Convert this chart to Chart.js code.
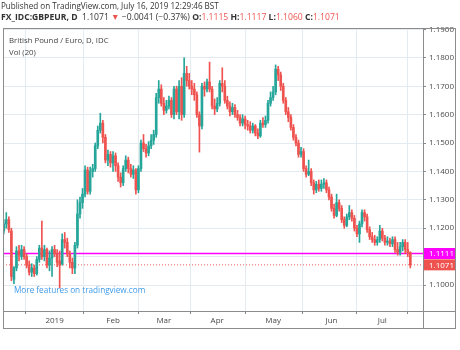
<!DOCTYPE html>
<html>
<head>
<meta charset="utf-8">
<script src="https://cdn.jsdelivr.net/npm/chart.js@4.4.0/dist/chart.umd.min.js"></script>
<style>
  html, body { margin: 0; padding: 0; background: #fff; }
  #wrap { position: relative; width: 460px; height: 350px; font-family: "Open Sans", sans-serif; color: #333; }
  #wrap canvas { position: absolute; left: 0; top: 0; }
  .txt { position: absolute; white-space: nowrap; line-height: 10px; }
  .red { color: #ef5350; }
  b { font-weight: 700; }
</style>
</head>
<body>
<div id="wrap">
  <canvas id="chart"></canvas>
  <div class="txt" style="left:1px; top:1px; font-size:8.1px;">Published on TradingView.com, July 16, 2019 12:29:46 BST</div>
  <div class="txt" style="left:1px; top:12px; font-size:8.6px;"><b>FX_IDC:GBPEUR, D</b>&nbsp; 1.1071 <span class="red">▼</span> −0.0041 (−0.37%) <b>O:</b><span class="red">1.1115</span> <b>H:</b><span class="red">1.1117</span> <b>L:</b><span class="red">1.1060</span> <b>C:</b><span class="red">1.1071</span></div>
  <div class="txt" style="left:9px; top:35px; font-size:7.8px; color:#444;">British Pound / Euro, D, IDC</div>
  <div class="txt" style="left:9px; top:47px; font-size:7.8px; color:#444;">Vol (20)</div>
  <div class="txt" style="left:14px; top:285px; font-size:8.2px; color:#3f9ae8;">More features on tradingview.com</div>
</div>
<script>
// daily GBP/EUR candles, 4 Dec 2018 .. 16 Jul 2019 (index = trading day)
const opens = [
  1.1190, 1.1215, 1.1230, 1.1190, 1.1020, 1.1060, 1.1120, 1.1100, 1.1125, 1.1100,
  1.1070, 1.1045, 1.1060, 1.1040, 1.1090, 1.1130, 1.1100, 1.1125, 1.1070, 1.1095,
  1.1125, 1.1110, 1.1085, 1.1075, 1.1160, 1.1150, 1.1110, 1.1080, 1.1060, 1.1140,
  1.1250, 1.1290, 1.1320, 1.1405, 1.1330, 1.1400, 1.1410, 1.1490, 1.1545, 1.1570,
  1.1520, 1.1440, 1.1460, 1.1430, 1.1455, 1.1420, 1.1380, 1.1360, 1.1410, 1.1440,
  1.1410, 1.1390, 1.1405, 1.1335, 1.1410, 1.1500, 1.1480, 1.1465, 1.1490, 1.1510,
  1.1530, 1.1660, 1.1690, 1.1640, 1.1615, 1.1630, 1.1650, 1.1600, 1.1690, 1.1610,
  1.1700, 1.1600, 1.1745, 1.1720, 1.1700, 1.1690, 1.1670, 1.1600, 1.1560, 1.1700,
  1.1690, 1.1715, 1.1690, 1.1630, 1.1620, 1.1640, 1.1710, 1.1700, 1.1650, 1.1630,
  1.1610, 1.1625, 1.1600, 1.1590, 1.1570, 1.1585, 1.1565, 1.1560, 1.1545, 1.1560,
  1.1535, 1.1525, 1.1570, 1.1565, 1.1580, 1.1640, 1.1660, 1.1680, 1.1760, 1.1740,
  1.1700, 1.1650, 1.1610, 1.1590, 1.1555, 1.1520, 1.1500, 1.1460, 1.1470, 1.1410,
  1.1390, 1.1400, 1.1360, 1.1335, 1.1355, 1.1340, 1.1355, 1.1360, 1.1335, 1.1310,
  1.1270, 1.1245, 1.1290, 1.1270, 1.1230, 1.1210, 1.1240, 1.1255, 1.1235, 1.1200,
  1.1180, 1.1215, 1.1255, 1.1240, 1.1195, 1.1170, 1.1160, 1.1150, 1.1160, 1.1190,
  1.1165, 1.1150, 1.1155, 1.1145, 1.1160, 1.1125, 1.1115, 1.1135, 1.1150, 1.1125,
  1.1115
];
const highs = [
  1.1230, 1.1255, 1.1240, 1.1200, 1.1065, 1.1135, 1.1140, 1.1140, 1.1135, 1.1110,
  1.1085, 1.1075, 1.1070, 1.1100, 1.1140, 1.1225, 1.1140, 1.1130, 1.1120, 1.1135,
  1.1140, 1.1125, 1.1120, 1.1180, 1.1185, 1.1165, 1.1120, 1.1095, 1.1150, 1.1300,
  1.1310, 1.1340, 1.1420, 1.1415, 1.1415, 1.1425, 1.1500, 1.1560, 1.1605, 1.1580,
  1.1530, 1.1475, 1.1470, 1.1470, 1.1465, 1.1430, 1.1395, 1.1420, 1.1455, 1.1450,
  1.1425, 1.1420, 1.1410, 1.1420, 1.1510, 1.1530, 1.1495, 1.1505, 1.1530, 1.1545,
  1.1675, 1.1720, 1.1705, 1.1660, 1.1650, 1.1665, 1.1660, 1.1700, 1.1700, 1.1720,
  1.1730, 1.1800, 1.1770, 1.1745, 1.1720, 1.1710, 1.1680, 1.1610, 1.1710, 1.1715,
  1.1725, 1.1785, 1.1700, 1.1655, 1.1660, 1.1720, 1.1765, 1.1720, 1.1665, 1.1645,
  1.1640, 1.1635, 1.1615, 1.1600, 1.1600, 1.1595, 1.1580, 1.1575, 1.1570, 1.1565,
  1.1550, 1.1580, 1.1590, 1.1595, 1.1650, 1.1680, 1.1700, 1.1775, 1.1770, 1.1750,
  1.1710, 1.1660, 1.1625, 1.1600, 1.1565, 1.1530, 1.1510, 1.1485, 1.1480, 1.1420,
  1.1440, 1.1410, 1.1370, 1.1365, 1.1370, 1.1370, 1.1375, 1.1370, 1.1345, 1.1320,
  1.1285, 1.1320, 1.1300, 1.1280, 1.1240, 1.1250, 1.1280, 1.1265, 1.1245, 1.1210,
  1.1225, 1.1265, 1.1265, 1.1250, 1.1205, 1.1185, 1.1175, 1.1170, 1.1210, 1.1200,
  1.1175, 1.1170, 1.1165, 1.1170, 1.1170, 1.1150, 1.1150, 1.1160, 1.1160, 1.1150,
  1.1117
];
const lows = [
  1.1180, 1.1200, 1.1185, 1.1015, 1.1005, 1.1050, 1.1085, 1.1090, 1.1090, 1.1060,
  1.1035, 1.1030, 1.1030, 1.1035, 1.1080, 1.1090, 1.1085, 1.1060, 1.1050, 1.1030,
  1.1100, 1.1065, 1.0990, 1.1070, 1.1130, 1.1100, 1.1060, 1.1040, 1.1040, 1.1130,
  1.1235, 1.1270, 1.1310, 1.1320, 1.1320, 1.1380, 1.1400, 1.1480, 1.1535, 1.1500,
  1.1430, 1.1420, 1.1415, 1.1400, 1.1400, 1.1365, 1.1345, 1.1350, 1.1400, 1.1395,
  1.1380, 1.1375, 1.1320, 1.1325, 1.1400, 1.1470, 1.1450, 1.1455, 1.1480, 1.1495,
  1.1520, 1.1640, 1.1630, 1.1600, 1.1605, 1.1620, 1.1590, 1.1585, 1.1600, 1.1585,
  1.1580, 1.1590, 1.1700, 1.1690, 1.1670, 1.1650, 1.1590, 1.1468, 1.1550, 1.1665,
  1.1680, 1.1680, 1.1620, 1.1600, 1.1610, 1.1630, 1.1680, 1.1640, 1.1620, 1.1595,
  1.1600, 1.1590, 1.1580, 1.1560, 1.1560, 1.1550, 1.1545, 1.1535, 1.1535, 1.1525,
  1.1515, 1.1520, 1.1555, 1.1555, 1.1570, 1.1630, 1.1650, 1.1670, 1.1720, 1.1685,
  1.1640, 1.1600, 1.1575, 1.1545, 1.1510, 1.1490, 1.1450, 1.1450, 1.1400, 1.1380,
  1.1385, 1.1350, 1.1320, 1.1325, 1.1330, 1.1330, 1.1340, 1.1325, 1.1300, 1.1260,
  1.1235, 1.1240, 1.1260, 1.1220, 1.1200, 1.1205, 1.1230, 1.1225, 1.1190, 1.1170,
  1.1150, 1.1205, 1.1225, 1.1185, 1.1160, 1.1150, 1.1140, 1.1140, 1.1150, 1.1155,
  1.1140, 1.1140, 1.1135, 1.1135, 1.1115, 1.1105, 1.1105, 1.1120, 1.1110, 1.1100,
  1.1060
];
const closes = [
  1.1215, 1.1230, 1.1195, 1.1030, 1.1060, 1.1120, 1.1105, 1.1125, 1.1100, 1.1070,
  1.1045, 1.1060, 1.1040, 1.1090, 1.1130, 1.1100, 1.1125, 1.1070, 1.1095, 1.1125,
  1.1110, 1.1080, 1.1070, 1.1160, 1.1150, 1.1110, 1.1080, 1.1060, 1.1140, 1.1250,
  1.1290, 1.1320, 1.1405, 1.1330, 1.1400, 1.1410, 1.1490, 1.1545, 1.1570, 1.1520,
  1.1440, 1.1460, 1.1430, 1.1455, 1.1420, 1.1380, 1.1360, 1.1410, 1.1440, 1.1410,
  1.1390, 1.1405, 1.1335, 1.1410, 1.1500, 1.1480, 1.1465, 1.1490, 1.1510, 1.1530,
  1.1660, 1.1690, 1.1640, 1.1615, 1.1630, 1.1650, 1.1600, 1.1690, 1.1610, 1.1700,
  1.1600, 1.1745, 1.1720, 1.1700, 1.1690, 1.1670, 1.1600, 1.1560, 1.1700, 1.1690,
  1.1715, 1.1690, 1.1630, 1.1620, 1.1640, 1.1710, 1.1700, 1.1650, 1.1630, 1.1610,
  1.1625, 1.1600, 1.1590, 1.1570, 1.1585, 1.1565, 1.1560, 1.1545, 1.1560, 1.1535,
  1.1525, 1.1570, 1.1565, 1.1580, 1.1640, 1.1660, 1.1680, 1.1760, 1.1740, 1.1700,
  1.1650, 1.1610, 1.1590, 1.1555, 1.1520, 1.1500, 1.1460, 1.1470, 1.1410, 1.1390,
  1.1400, 1.1360, 1.1335, 1.1355, 1.1340, 1.1355, 1.1360, 1.1335, 1.1310, 1.1270,
  1.1245, 1.1290, 1.1270, 1.1230, 1.1210, 1.1240, 1.1255, 1.1235, 1.1200, 1.1180,
  1.1215, 1.1255, 1.1240, 1.1195, 1.1170, 1.1160, 1.1150, 1.1160, 1.1190, 1.1165,
  1.1150, 1.1155, 1.1145, 1.1160, 1.1125, 1.1115, 1.1135, 1.1150, 1.1125, 1.1115,
  1.1071
];

// first trading day of each month (as candle index) and its label
const monthTicks = [20, 43, 63, 84, 106, 129, 149];
const monthLabels = ['2019', 'Feb', 'Mar', 'Apr', 'May', 'Jun', 'Jul'];
const priceTicks = [1.10, 1.11, 1.12, 1.13, 1.14, 1.15, 1.16, 1.17, 1.18, 1.19];

// user drawn horizontal level
const levelLine = 1.1111;

const upColor = '#26a69a';
const downColor = '#ef5350';
const levelColor = '#ff00ff';
const font = '"Open Sans", sans-serif';

const lastClose = closes[closes.length - 1];
const candleColor = c => closes[c.dataIndex] >= opens[c.dataIndex] ? upColor : downColor;

const bodies = opens.map((o, i) => ({ x: i, y: [o, closes[i]] }));
const wicks = lows.map((l, i) => ({ x: i, y: [l, highs[i]] }));

// frame around the pane + price tags on the right axis
const paneFrame = {
  id: 'paneFrame',
  afterDraw(chart) {
    const { ctx, chartArea: a, scales: { x, y } } = chart;
    ctx.save();
    ctx.strokeStyle = '#8c8c8c';
    ctx.lineWidth = 1;
    ctx.strokeRect(a.left + 0.5, a.top + 0.5, y.right - a.left - 1, x.bottom - a.top - 1);
    ctx.beginPath();
    ctx.moveTo(a.right + 0.5, a.top);
    ctx.lineTo(a.right + 0.5, x.bottom);
    ctx.moveTo(a.left, a.bottom + 0.5);
    ctx.lineTo(y.right, a.bottom + 0.5);
    ctx.stroke();

    const tag = (value, fill) => {
      const py = y.getPixelForValue(value);
      ctx.fillStyle = fill;
      ctx.fillRect(a.right + 1, py - 5.5, y.right - a.right - 2, 11);
      ctx.fillStyle = '#fff';
      ctx.font = '8px ' + font;
      ctx.textBaseline = 'middle';
      ctx.fillText(value.toFixed(4), a.right + 6, py + 0.5);
    };
    tag(levelLine, levelColor);
    tag(lastClose, downColor);
    ctx.restore();
  }
};

new Chart(document.getElementById('chart'), {
  type: 'bar',
  data: {
    datasets: [
      { data: bodies, backgroundColor: candleColor, barThickness: 2, grouped: false, minBarLength: 1 },
      { data: wicks, backgroundColor: candleColor, barThickness: 1, grouped: false },
      { type: 'line', data: [{ x: -5, y: levelLine }, { x: 170, y: levelLine }],
        borderColor: levelColor, borderWidth: 1.5, pointRadius: 0 },
      { type: 'line', data: [{ x: -5, y: lastClose }, { x: 170, y: lastClose }],
        borderColor: downColor, borderWidth: 1, borderDash: [1, 2], pointRadius: 0 }
    ]
  },
  options: {
    responsive: true,
    maintainAspectRatio: false,
    animation: false,
    devicePixelRatio: 1,
    layout: { padding: { left: 3, top: 28, right: 4, bottom: 21 } },
    plugins: { legend: { display: false }, tooltip: { enabled: false } },
    scales: {
      x: {
        type: 'linear',
        min: -0.3,
        max: 165,
        offset: false,
        afterBuildTicks: s => { s.ticks = monthTicks.map(v => ({ value: v })); },
        afterFit: s => { s.height = 18; },
        ticks: {
          autoSkip: false, maxRotation: 0, padding: 2, color: '#4a4a4a',
          font: { size: 8, family: font },
          callback: v => monthLabels[monthTicks.indexOf(v)]
        },
        grid: { color: '#e3eaf0', tickColor: '#8c8c8c', tickLength: 3 },
        border: { display: false }
      },
      y: {
        position: 'right',
        min: 1.09085,
        max: 1.1905,
        afterBuildTicks: s => { s.ticks = priceTicks.map(v => ({ value: v })); },
        afterFit: s => { s.width = 33; },
        ticks: {
          padding: 3, color: '#4a4a4a',
          font: { size: 8, family: font },
          callback: v => v.toFixed(4)
        },
        grid: { color: '#e3eaf0', tickColor: '#8c8c8c', tickLength: 3 },
        border: { display: false }
      }
    }
  },
  plugins: [paneFrame]
});
</script>
</body>
</html>
